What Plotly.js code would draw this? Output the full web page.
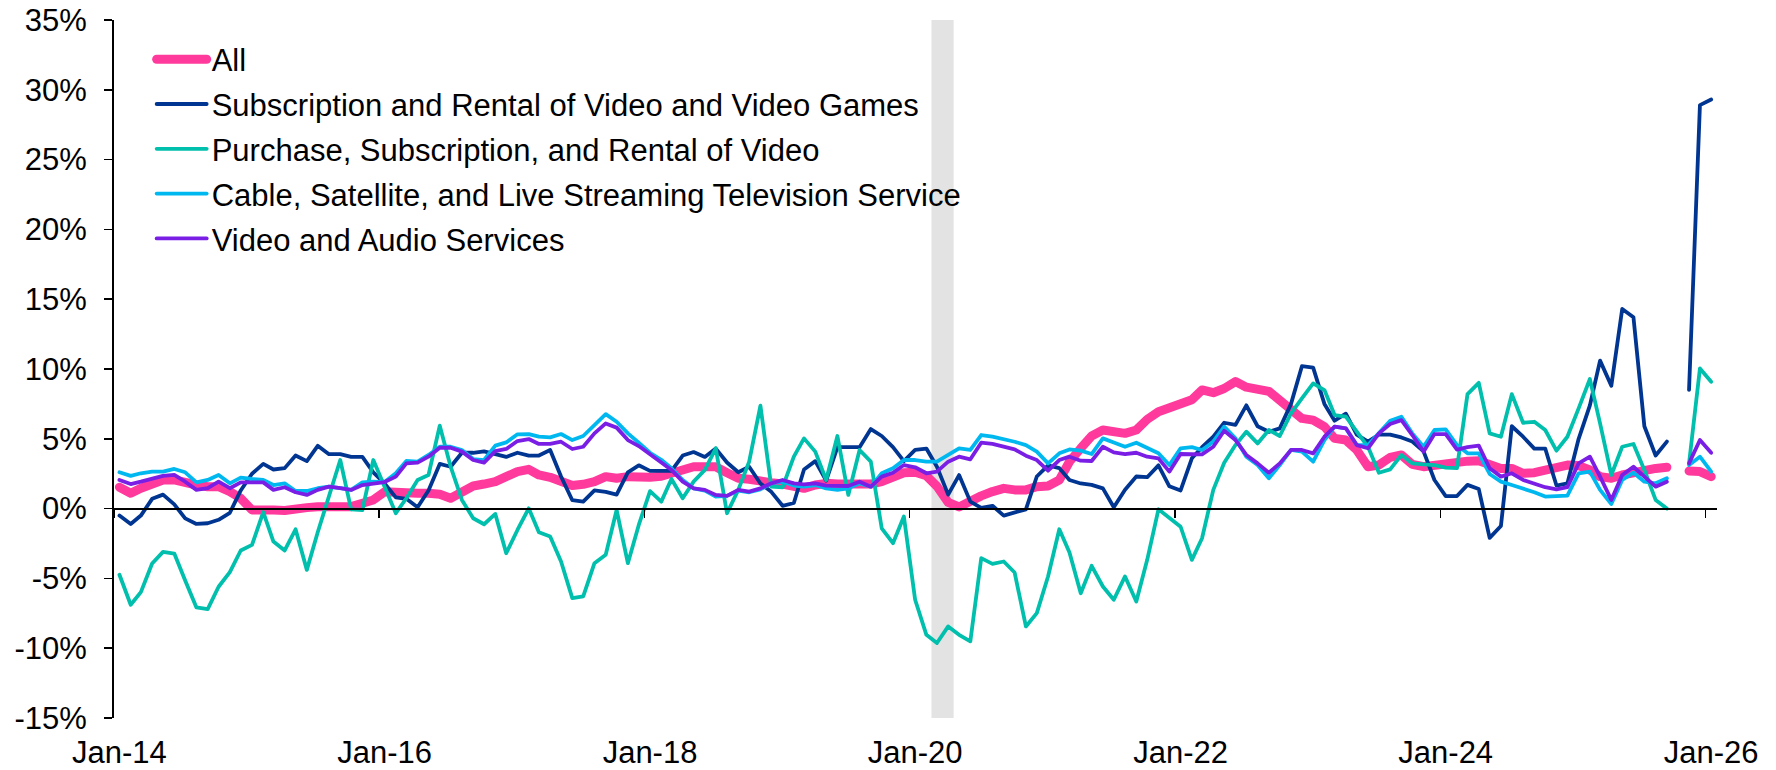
<!DOCTYPE html>
<html><head><meta charset="utf-8">
<script src="https://cdn.plot.ly/plotly-3.0.1.min.js"></script>
<style>
html,body{margin:0;padding:0;background:#fff;}
#chart{width:1776px;height:770px;}
.js-line{stroke-linecap:round;stroke-linejoin:round;}
</style></head><body><div id="chart"></div>
<script>
// Monthly series, Jan-2014 .. Jan-2026 (145 months); Oct-2025 missing (null)
const startYear = 2014;
const nMonths = 145;

const seriesNames = [
  "All",
  "Subscription and Rental of Video and Video Games",
  "Purchase, Subscription, and Rental of Video",
  "Cable, Satellite, and Live Streaming Television Service",
  "Video and Audio Services"
];

const allItems = [1.53,1.1,1.46,1.81,2.05,2.05,1.81,1.69,1.57,1.57,1.22,0.74,-0.1,-0.05,-0.1,-0.14,0.02,0.07,0.14,0.14,0.02,0.14,0.38,0.62,
1.2,1.22,1.1,1.1,1.1,1.03,0.74,1.1,1.62,1.76,1.93,2.29,2.65,2.81,2.41,2.24,1.93,1.65,1.74,1.93,2.29,2.17,2.29,2.22,
2.25,2.32,2.53,2.81,3.0,3.0,3.0,2.57,2.17,2.1,2.05,1.86,1.76,1.53,1.45,1.69,1.81,1.76,1.76,1.86,1.76,1.93,2.29,2.57,
2.6,2.35,1.6,0.45,0.12,0.6,0.91,1.22,1.45,1.34,1.34,1.57,1.62,2.05,3.36,4.32,5.2,5.63,5.58,5.39,5.63,6.39,6.94,7.18,
7.5,7.8,8.5,8.3,8.6,9.1,8.7,8.5,8.4,7.77,7.06,6.46,6.34,5.87,5.03,4.91,4.2,3.0,3.12,3.67,3.84,3.17,3.0,3.12,
3.3,3.3,3.4,3.43,3.24,2.88,2.88,2.53,2.57,2.77,2.93,3.12,3.08,2.77,2.29,2.17,2.41,2.6,2.72,2.88,2.96,null,2.69,2.65,
2.29];

const subsRentalVideoGames = [-0.5,-1.1,-0.5,0.7,1.0,0.3,-0.7,-1.1,-1.05,-0.8,-0.3,1.3,2.5,3.2,2.8,2.9,3.8,3.4,4.5,3.9,3.9,3.7,3.7,2.6,
1.8,0.8,0.7,0.1,1.3,3.2,3.0,4.0,4.0,4.1,3.9,3.7,4.0,3.8,3.8,4.2,2.3,0.6,0.5,1.3,1.2,1.0,2.6,3.1,
2.7,2.7,2.7,3.8,4.05,3.7,4.3,3.3,2.6,3.0,1.8,1.2,0.2,0.4,2.8,3.4,2.0,4.4,4.4,4.4,5.7,5.2,4.4,3.4,
4.2,4.3,3.0,1.0,2.4,0.5,0.05,0.2,-0.5,-0.3,-0.05,2.3,3.1,2.9,2.05,1.8,1.7,1.45,0.1,1.35,2.3,2.25,3.1,1.6,
1.3,3.6,4.4,5.15,6.15,6.0,7.4,5.9,5.5,5.75,7.5,10.2,10.1,7.5,6.3,6.8,5.3,4.8,5.3,5.3,5.1,4.8,4.1,2.05,
0.9,0.9,1.7,1.4,-2.1,-1.25,5.9,5.15,4.3,4.3,1.65,1.8,5.0,7.4,10.6,8.8,14.3,13.7,5.9,3.8,4.8,null,8.5,28.9,
29.3];

const purchSubsRentalVideo = [-4.74,-6.89,-5.98,-3.93,-3.1,-3.22,-5.15,-7.08,-7.2,-5.6,-4.55,-3.0,-2.6,-0.26,-2.36,-3.0,-1.48,-4.39,-1.7,1.0,3.48,-0.05,-0.1,3.48,
1.6,-0.33,0.74,2.05,2.41,5.94,3.0,0.62,-0.69,-1.12,-0.38,-3.2,-1.53,0.02,-1.7,-2.0,-3.79,-6.41,-6.29,-3.91,-3.31,-0.1,-3.91,-1.17,
1.25,0.5,2.12,0.74,1.93,2.77,4.32,-0.33,1.34,3.36,7.37,1.57,1.53,3.72,5.03,4.08,2.05,5.2,0.98,4.2,3.36,-1.41,-2.48,-0.57,
-6.53,-9.04,-9.63,-8.44,-9.04,-9.51,-3.55,-3.96,-3.79,-4.58,-8.44,-7.49,-4.86,-1.48,-3.15,-6.06,-4.1,-5.58,-6.53,-4.86,-6.65,-3.67,-0.05,-0.7,
-1.3,-3.67,-2.12,1.34,3.29,4.55,5.51,4.67,5.63,5.2,6.82,7.89,8.97,8.49,6.7,6.58,5.51,4.43,2.57,2.81,3.84,3.24,3.17,3.12,
2.93,2.9,8.2,9.01,5.39,5.15,8.2,6.15,6.22,5.63,4.15,5.15,7.18,9.28,6.1,2.41,4.43,4.63,2.77,0.62,0.0,null,3.24,10.04,
9.08];

const cableSatStreamingTV = [2.6,2.34,2.53,2.65,2.65,2.84,2.6,1.88,2.05,2.41,1.81,2.22,2.12,2.05,1.69,1.81,1.26,1.26,1.46,1.57,1.46,1.34,1.88,1.93,
1.9,2.53,3.41,3.36,3.84,4.43,4.43,4.2,3.55,3.48,4.51,4.74,5.32,5.34,5.15,5.1,5.34,4.91,5.2,6.03,6.77,6.22,5.39,4.72,
4.0,3.5,2.89,2.05,1.45,1.29,0.86,0.91,1.29,1.17,1.38,1.81,1.93,1.65,1.57,1.69,1.45,1.34,1.45,1.81,1.57,2.53,2.89,3.48,
3.48,3.36,3.36,3.84,4.32,4.2,5.27,5.15,4.98,4.79,4.55,4.08,3.24,3.96,4.24,4.15,3.91,5.03,4.74,4.43,4.72,4.32,3.96,3.12,
4.32,4.4,4.2,4.79,5.87,5.03,3.72,3.12,2.17,3.12,4.2,4.08,3.36,4.91,5.87,5.75,4.55,4.55,5.39,6.29,6.58,5.39,4.43,5.63,
5.67,4.55,3.96,3.96,2.48,1.93,1.69,1.45,1.17,0.86,0.91,0.93,2.53,2.65,1.34,0.33,2.05,2.57,1.93,1.81,2.17,null,3.12,3.72,
2.65];

const videoAudioServices = [2.05,1.76,1.93,2.17,2.34,2.41,1.93,1.34,1.46,1.93,1.46,1.88,1.88,1.88,1.34,1.53,1.17,0.98,1.34,1.57,1.46,1.34,1.69,1.81,
1.9,2.29,3.24,3.29,3.72,4.36,4.36,4.08,3.48,3.29,4.12,4.27,4.84,4.98,4.63,4.63,4.79,4.27,4.43,5.39,6.1,5.8,4.91,4.48,
3.93,3.3,2.77,1.93,1.45,1.34,0.98,0.91,1.34,1.22,1.45,1.81,2.05,1.81,1.74,1.81,1.65,1.62,1.62,1.93,1.57,2.29,2.57,3.12,
2.96,2.53,2.65,3.36,3.72,3.53,4.72,4.63,4.43,4.24,3.79,3.48,2.72,3.48,3.72,3.43,3.41,4.43,4.03,3.91,4.0,3.72,3.6,2.65,
3.91,3.88,3.89,4.43,5.58,4.91,3.84,3.24,2.57,3.24,4.2,4.2,3.96,5.15,5.87,5.75,4.55,4.32,5.39,6.06,6.34,5.27,4.08,5.34,
5.34,4.22,4.4,4.51,2.89,2.29,2.53,2.05,1.81,1.53,1.38,1.53,3.24,3.72,2.29,0.62,2.41,3.0,2.29,1.57,1.93,null,3.24,4.91,
4.0];

// tick marks sit on month boundaries; labels are centred on the January data point
const xTickVals = ["2014-01-01","2016-01-01","2018-01-01","2020-01-01","2022-01-01","2024-01-01","2026-01-01"];
const xLabelVals = ["2014-01-16","2016-01-16","2018-01-16","2020-01-16","2022-01-16","2024-01-16","2026-01-16"];
const xTickText = ["Jan-14","Jan-16","Jan-18","Jan-20","Jan-22","Jan-24","Jan-26"];
const yTickVals = [-15,-10,-5,0,5,10,15,20,25,30,35];
const yTickText = ["-15%","-10%","-5%","0%","5%","10%","15%","20%","25%","30%","35%"];
const recession = ["2020-03-01","2020-05-01"];

// month dates (mid-month)
const dates = [];
for (let i = 0; i < nMonths; i++) {
  const d = new Date(Date.UTC(startYear, i, 16));
  dates.push(d.toISOString().slice(0,10));
}

const colors = ["#FF3A9C","#003591","#00BFAC","#00B8F0","#7A1EE6"];
const widths = [9,3.8,3.8,3.8,3.8];
const values = [allItems, subsRentalVideoGames, purchSubsRentalVideo, cableSatStreamingTV, videoAudioServices];

const traces = values.map((v,k) => ({
  x: dates, y: v, type: 'scatter', mode: 'lines', name: seriesNames[k],
  line: {color: colors[k], width: widths[k]},
  connectgaps: false, legendgroup: 'g'+k,
  xaxis: k === 4 ? 'x2' : 'x', yaxis: 'y',
  hoverinfo: 'x+y+name'
}));

const fontFam = "Liberation Sans, Arial, Helvetica, sans-serif";
const xRange = ["2014-01-01","2026-02-01"];

const layout = {
  width: 1776, height: 770,
  margin: {l: 114, r: 59, t: 20, b: 52, pad: 0},
  paper_bgcolor: '#fff', plot_bgcolor: '#fff',
  font: {family: fontFam, size: 31, color: '#000'},
  showlegend: true,
  legend: {x: 0.0235, xanchor: 'left', y: 0.982, yanchor: 'top',
           bgcolor: 'rgba(0,0,0,0)', borderwidth: 0, itemwidth: 50,
           tracegroupgap: 1.5, font: {family: fontFam, size: 31, color: '#000'}},
  xaxis: {type: 'date', range: xRange, tickvals: xLabelVals, ticktext: xTickText,
          ticks: '', showline: false, showgrid: false, zeroline: false,
          ticklabelstandoff: 13, tickfont: {size: 31}},
  xaxis2: {type: 'date', range: xRange, overlaying: 'x', matches: 'x', anchor: 'free', position: 0.3,
           tickvals: xTickVals, showticklabels: false, ticks: 'outside', ticklen: 8, tickwidth: 1.5,
           tickcolor: '#000', showline: true, linecolor: '#000', linewidth: 2,
           showgrid: false, zeroline: false},
  yaxis: {range: [-15, 35], tickvals: yTickVals, ticktext: yTickText,
          showline: true, linecolor: '#000', linewidth: 2, ticks: 'outside', ticklen: 8,
          tickwidth: 1.5, tickcolor: '#000', showgrid: false, zeroline: false,
          ticklabelstandoff: 11, tickfont: {size: 31}},
  shapes: [{type: 'rect', xref: 'x', yref: 'paper', x0: recession[0], x1: recession[1],
            y0: 0, y1: 1, fillcolor: '#E3E3E3', line: {width: 0}, layer: 'below'}]
};

Plotly.newPlot('chart', traces, layout, {displayModeBar: false, staticPlot: true});
</script></body></html>
